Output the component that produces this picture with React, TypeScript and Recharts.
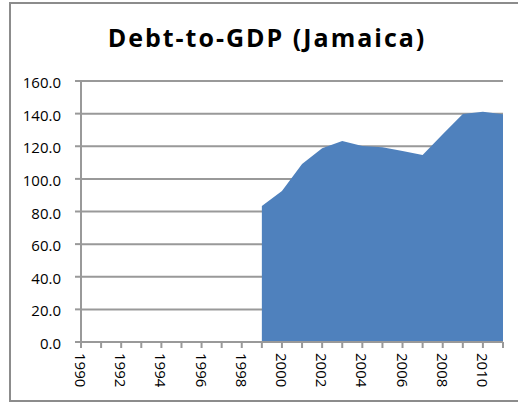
import React from 'react';
import { AreaChart, Area, XAxis, YAxis, CartesianGrid } from 'recharts';

const years = ['1990','1991','1992','1993','1994','1995','1996','1997','1998','1999','2000','2001','2002','2003','2004','2005','2006','2007','2008','2009','2010','2011'];
const debtToGdp: (number | null)[] = [null, null, null, null, null, null, null, null, null, 83.4, 92.6, 109.1, 118.7, 123.2, 120.2, 119.4, 117.1, 114.7, 127.3, 139.8, 141.2, 139.6];
const xTickLabels = ['1990','1992','1994','1996','1998','2000','2002','2004','2006','2008','2010'];
const yTicks = [0, 20, 40, 60, 80, 100, 120, 140, 160];
const title = 'Debt-to-GDP (Jamaica)';

const data = years.map((y, i) => ({ year: y, debt: debtToGdp[i] }));

const FONT = "'Open Sans', sans-serif";
const GRID = '#999999';

const XTick = (props: any) => {
  const { x, y, payload } = props;
  const v = String(payload.value);
  if (!xTickLabels.includes(v)) return <g />;
  const ty = y + 3;
  return (
    <text
      x={x}
      y={ty}
      transform={`rotate(90, ${x}, ${ty})`}
      textAnchor="start"
      dominantBaseline="central"
      fontFamily={FONT}
      fontSize={15}
      fill="#000"
    >
      {v}
    </text>
  );
};

const YTick = (props: any) => {
  const { x, y, payload } = props;
  return (
    <text x={x} y={y + 1} textAnchor="end" dominantBaseline="central" fontFamily={FONT} fontSize={15} fill="#000">
      {Number(payload.value).toFixed(1)}
    </text>
  );
};

export default function App() {
  return (
    <div style={{ position: 'fixed', left: 0, top: 0, width: 518, height: 404, overflow: 'hidden', background: '#fff' }}>
      <div
        style={{
          position: 'absolute',
          left: 9,
          top: 2,
          width: 530,
          height: 396,
          border: '2px solid #8c8c8c',
          boxSizing: 'content-box',
        }}
      />
      <div style={{ position: 'absolute', left: 0, top: 0 }}>
        <AreaChart width={518} height={404} data={data} margin={{ top: 81, right: 15, bottom: 0, left: 0 }}>
          <CartesianGrid horizontal vertical={false} stroke={GRID} strokeWidth={2} />
          <XAxis
            dataKey="year"
            interval={0}
            tick={<XTick />}
            tickSize={6}
            tickMargin={2}
            axisLine={{ stroke: GRID, strokeWidth: 2 }}
            tickLine={{ stroke: GRID, strokeWidth: 2 }}
            height={62}
          />
          <YAxis
            width={81}
            domain={[0, 160]}
            ticks={yTicks}
            interval={0}
            tick={<YTick />}
            tickSize={6}
            tickMargin={14}
            axisLine={{ stroke: GRID, strokeWidth: 2 }}
            tickLine={{ stroke: GRID, strokeWidth: 2 }}
          />
          <Area
            type="linear"
            dataKey="debt"
            stroke="none"
            fill="#4F81BD"
            fillOpacity={1}
            isAnimationActive={false}
            connectNulls={false}
            dot={false}
            activeDot={false}
          />
        </AreaChart>
      </div>
      <svg width={518} height={404} style={{ position: 'absolute', left: 0, top: 0, pointerEvents: 'none' }}>
        <text x={267} y={46.7} textAnchor="middle" fontFamily={FONT} fontWeight={700} fontSize={25} letterSpacing={2} fill="#000">
          {title}
        </text>
      </svg>
    </div>
  );
}
